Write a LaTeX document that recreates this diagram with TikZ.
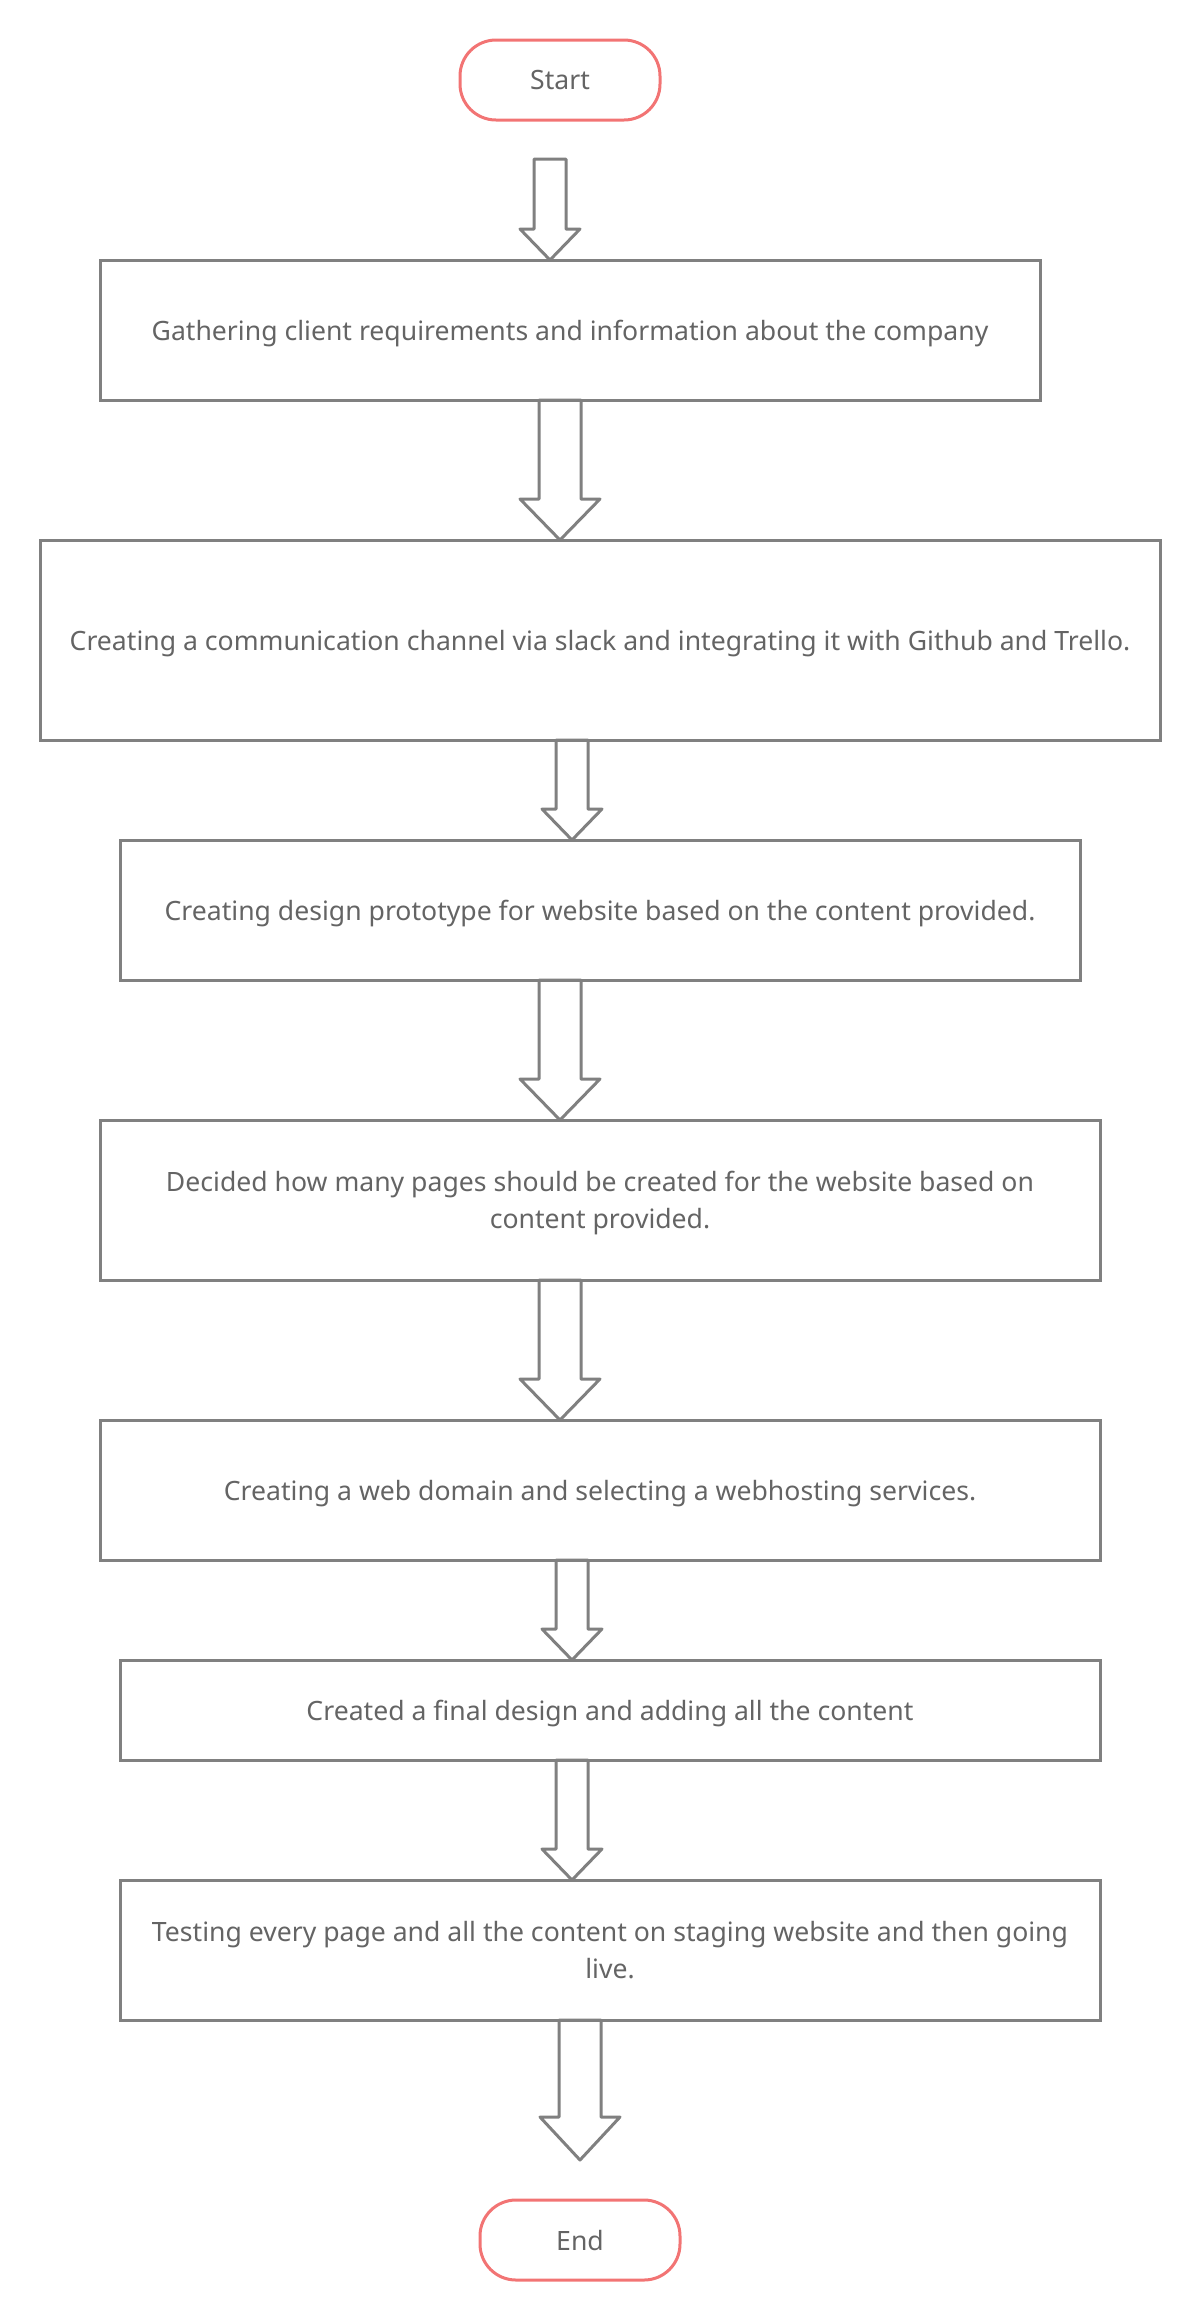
\documentclass[tikz,border=0pt]{standalone}
\usepackage{fontspec}
\setmainfont{Noto Sans}
\usetikzlibrary{calc}
\definecolor{linegray}{RGB}{128,128,128}
\definecolor{textgray}{RGB}{100,100,100}
\definecolor{termred}{RGB}{242,116,116}
\newcommand\hollowarrow[5]{%
  \draw[arrowline] let \p1=#1, \p2=#2 in
    (\x1-#3,\y1) -- (\x1-#3,\y2+#5) -- (\x1-#4,\y2+#5) -- (\x1,\y2)
    -- (\x1+#4,\y2+#5) -- (\x1+#3,\y2+#5) -- (\x1+#3,\y1) -- cycle;
}
\tikzset{
  stepbox/.style={draw=linegray, line width=1.5pt, outer sep=0pt, inner sep=0pt,
    text=textgray, align=center, text depth=0pt, font=\fontsize{13.3}{18.5}\selectfont},
  terminal/.style={draw=termred, line width=1.5pt, outer sep=0pt, rounded corners=18pt,
    minimum width=100pt, minimum height=40pt, text=textgray, text depth=0pt,
    font=\fontsize{13.3}{18.5}\selectfont},
  arrowline/.style={draw=linegray, line width=1.5pt, line join=round},
}
\begin{document}
\begin{tikzpicture}[x=0.5pt,y=-0.5pt]
\useasboundingbox (0,0) rectangle (1200,2320);
\node[terminal] (st) at (560,80) {Start};
\node[stepbox, minimum width=470pt, minimum height=70pt] (b1) at (570,330)
  {Gathering client requirements and information about the company};
\node[stepbox, minimum width=560pt, minimum height=100pt] (b2) at (600,640)
  {Creating a communication channel via slack and integrating it with Github and Trello.};
\node[stepbox, minimum width=480pt, minimum height=70pt] (b3) at (600,910)
  {Creating design prototype for website based on the content provided.};
\node[stepbox, minimum width=500pt, minimum height=80pt] (b4) at (600,1200)
  {Decided how many pages should be created for the website based on\\content provided.};
\node[stepbox, minimum width=500pt, minimum height=70pt] (b5) at (600,1490)
  {Creating a web domain and selecting a webhosting services.};
\node[stepbox, minimum width=490pt, minimum height=50pt] (b6) at (610,1710)
  {Created a final design and adding all the content};
\node[stepbox, minimum width=490pt, minimum height=70pt] (b7) at (610,1950)
  {Testing every page and all the content on staging website and then going\\live.};
\node[terminal] (en) at (580,2240) {End};
% arrow columns and free ends
\coordinate (c1) at (550,0);
\coordinate (c2) at (560,0);
\coordinate (c3) at (572,0);
\coordinate (c8) at (580,0);
\coordinate (a1top) at ($(st.south -| c1)+(0,39)$);
\coordinate (a8tip) at ($(en.north)+(0,-40)$);
\hollowarrow{(a1top)}{(b1.north -| c1)}{8pt}{15pt}{15.5pt}
\hollowarrow{(b1.south -| c2)}{(b2.north -| c2)}{10.5pt}{20pt}{20.5pt}
\hollowarrow{(b2.south -| c3)}{(b3.north -| c3)}{8pt}{15pt}{15.5pt}
\hollowarrow{(b3.south -| c2)}{(b4.north -| c2)}{10.5pt}{20pt}{20.5pt}
\hollowarrow{(b4.south -| c2)}{(b5.north -| c2)}{10.5pt}{20pt}{20.5pt}
\hollowarrow{(b5.south -| c3)}{(b6.north -| c3)}{8pt}{15pt}{15.5pt}
\hollowarrow{(b6.south -| c3)}{(b7.north -| c3)}{8pt}{15pt}{15.5pt}
\hollowarrow{(b7.south -| c8)}{(a8tip)}{10.5pt}{20pt}{21.5pt}
\end{tikzpicture}
\end{document}
